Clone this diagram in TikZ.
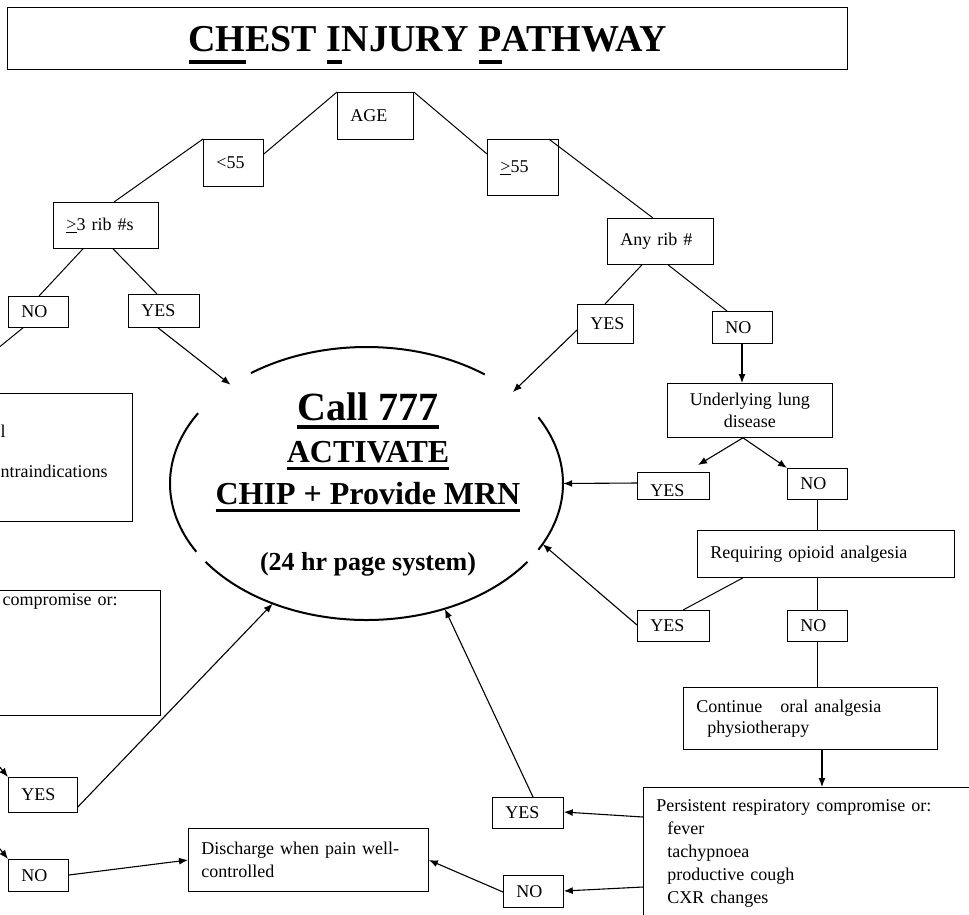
\documentclass[tikz,border=0pt]{standalone}
\usepackage{fontspec}
\setmainfont{Liberation Serif}
\usetikzlibrary{arrows.meta,shapes.geometric}

\newcommand{\heavyul}[3]{\vtop{\hbox{#3}\kern#2\hrule height #1}}

\begin{document}
\begin{tikzpicture}[
    x=1pt, y=-1pt,
    every node/.style={font=\fontsize{18}{21}\selectfont},
    box/.style={draw, line width=0.8pt, anchor=north west, inner xsep=13pt, inner ysep=0pt, align=left},
    link/.style={line width=1pt},
    flow/.style={line width=1.1pt, -{Latex[length=9pt,width=7pt]}},
    oval/.style={line width=2pt}
  ]
  \useasboundingbox (0,0) rectangle (969,914);
  \clip (0,0) rectangle (969,914);

  \node (title) [box, line width=1pt, minimum width=840pt, minimum height=62pt, text depth=0pt, font=\fontsize{38}{40}\selectfont\bfseries] at (7,7) {\heavyul{3.5pt}{9pt}{CH}EST \heavyul{3.5pt}{9pt}{I}NJURY \heavyul{3.5pt}{9pt}{P}ATHWAY};

  % age split
  \node (age) [box, minimum width=76pt, minimum height=47pt, text width=50pt] at (337,92) {AGE};
  \node (lt55) [box, minimum width=60pt, minimum height=47pt, text width=34pt] at (203,139) {<55};
  \node (ge55) [box, minimum width=71pt, minimum height=56pt, text width=45pt] at (487,139) {\underline{>}55};
  \node (ge3) [box, minimum width=105pt, minimum height=46pt, text width=79pt] at (53,202) {\underline{>}3 rib \#s};
  \node (noL) [box, minimum width=60pt, minimum height=31pt, text width=34pt] at (8,296) {NO};
  \node (yesL) [box, minimum width=71pt, minimum height=33pt, text width=45pt] at (128,294) {YES};
  \node (anyrib) [box, minimum width=106pt, minimum height=46pt, text width=80pt] at (607,218) {Any rib \#};
  \node (yesR) [box, minimum width=56pt, minimum height=39pt, text width=30pt] at (577,304) {YES};
  \node (noR) [box, minimum width=60pt, minimum height=32pt, text width=34pt] at (712,311) {NO};

  % right branch
  \node (lung) [box, align=center, minimum width=165pt, minimum height=54pt, text width=139pt, font=\fontsize{18}{22}\selectfont] at (667,383) {Underlying lung\\disease};
  \node (yesLung) [box, minimum width=72pt, minimum height=27pt, text width=46pt, text height=22pt, text depth=1pt] at (637,472) {YES};
  \node (noLung) [box, minimum width=60pt, minimum height=31pt, text width=34pt] at (787,468) {NO};
  \node (opioid) [box, minimum width=257pt, minimum height=47pt, text width=231pt] at (697,530) {Requiring opioid analgesia};
  \node (yesOp) [box, minimum width=72pt, minimum height=31pt, text width=46pt] at (637,610) {YES};
  \node (noOp) [box, minimum width=60pt, minimum height=31pt, text width=34pt] at (787,610) {NO};
  \node (cont) [box, minimum width=254pt, minimum height=62pt, text width=228pt] at (683,687) {Continue\hspace{18pt}oral analgesia\\\hspace*{11pt}physiotherapy};
  \node (pers) [box, inner ysep=12.5pt, text width=350pt, font=\fontsize{18}{23}\selectfont] at (643,787) {Persistent respiratory compromise or:\\\hspace*{11pt}fever\\\hspace*{11pt}tachypnoea\\\hspace*{11pt}productive cough\\\hspace*{11pt}CXR changes};
  \node (yes3) [box, minimum width=71pt, minimum height=31pt, text width=45pt] at (492,797) {YES};
  \node (no3) [box, minimum width=60pt, minimum height=32pt, text width=34pt] at (503,875) {NO};

  % bottom left
  \node (disch) [box, minimum width=240pt, minimum height=63pt, text width=214pt, font=\fontsize{18}{23}\selectfont] at (188,828) {Discharge when pain well-\\controlled};
  \node (yesBL) [box, minimum width=69pt, minimum height=35pt, text width=43pt] at (8,777) {YES};
  \node (noBL) [box, minimum width=60pt, minimum height=32pt, text width=34pt] at (8,859) {NO};
  \node (leftA) [box, anchor=north east, inner xsep=10pt, inner ysep=3pt, text width=122pt, font=\fontsize{18}{20}\selectfont] at (133,393) {\rule{0pt}{41pt}l\\[20pt]ntraindications\rule[-41pt]{0pt}{0pt}};
  \node (leftB) [box, anchor=north east, inner xsep=10pt, inner ysep=3pt, text width=148pt] at (161,590) {\rule{0pt}{12pt}compromise or:\rule[-107pt]{0pt}{0pt}};

  % CHIP oval
  \node (chip) [ellipse, minimum width=393pt, minimum height=273pt, inner sep=0pt] at (366.5,483.5) {};
  \node (chiptxt) [align=center, font=\fontsize{32}{42}\selectfont\bfseries] at (368,484) {{\fontsize{40}{42}\selectfont\heavyul{4pt}{5pt}{Call 777}}\\\heavyul{3pt}{4pt}{ACTIVATE}\\\heavyul{3pt}{5pt}{CHIP + Provide MRN}\\[24pt]{\fontsize{26}{30}\selectfont(24 hr page system)}};
  \foreach \a/\b in {-126/-53, -149/-210, 145/35, 29/-29}
    \draw[oval] (chip.center) ++(\a:196.5 and 136.5) arc[start angle=\a, end angle=\b, x radius=196.5, y radius=136.5];

  \draw[link] (age.north west) -- ([yshift=-15pt]lt55.north east);
  \draw[link] (age.north east) -- ([yshift=-15pt]ge55.north west);
  \draw[link] (lt55.north west) -- ([xshift=61pt]ge3.north west);
  \draw[link] ([xshift=-10pt]ge55.north east) -- ([xshift=46pt]anyrib.north west);
  \draw[link] ([xshift=30pt]ge3.south west) -- ([xshift=31pt]noL.north west);
  \draw[link] ([xshift=60pt]ge3.south west) -- ([xshift=29pt]yesL.north west);
  \coordinate (offL) at (-30,371);
  \draw[link] ([xshift=15pt]noL.south west) -- (offL);
  \draw[flow] ([xshift=30pt]yesL.south west) -- (chip.144);

  \draw[link] ([xshift=35pt]anyrib.south west) -- ([xshift=28pt]yesR.north west);
  \draw[link] ([xshift=61pt]anyrib.south west) -- ([xshift=15pt]noR.north west);
  \draw[flow] ([xshift=30pt]noR.south west) -- ([xshift=75pt]lung.north west);
  \draw[flow] ([yshift=-26pt]yesR.north west) -- (chip.32);
  \draw[flow] ([xshift=76pt]lung.south west) -- ([xshift=61pt,yshift=7pt]yesLung.north west);
  \draw[flow] ([xshift=76pt]lung.south west) -- (noLung.north west);
  \draw[flow] ([yshift=-11pt]yesLung.north west) -- (chip.0);
  \draw[link] ([xshift=30pt]noLung.south west) -- ([xshift=120pt]opioid.north west);
  \draw[link] ([xshift=46pt]opioid.south west) -- ([xshift=46pt]yesOp.north west);
  \draw[flow] ([yshift=-15pt]yesOp.north west) -- (chip.-19);
  \draw[link] ([xshift=120pt]opioid.south west) -- ([xshift=30pt]noOp.north west);
  \draw[link] ([xshift=30pt]noOp.south west) -- ([xshift=134pt]cont.north west);
  \draw[flow] ([xshift=139pt]cont.south west) -- ([xshift=179pt]pers.north west);
  \draw[flow] ([yshift=-30pt]pers.north west) -- ([yshift=-15pt]yes3.north east);
  \draw[flow] ([yshift=-100pt]pers.north west) -- ([yshift=-16pt]no3.north east);
  \draw[flow] ([xshift=41pt]yes3.north west) -- (chip.-58);
  \draw[flow] ([yshift=-17pt]no3.north west) -- ([yshift=-32pt]disch.north east);

  \draw[flow] ([yshift=-16pt]noBL.north east) -- ([yshift=-32pt]disch.north west);
  \draw[flow] ([yshift=-30pt]yesBL.north east) -- (chip.-128);
  \coordinate (inYes) at (-16,748);
  \coordinate (inNo) at (-16,829);
  \draw[flow] (inYes) -- (yesBL.north west);
  \draw[flow] (inNo) -- (noBL.north west);
\end{tikzpicture}
\end{document}
